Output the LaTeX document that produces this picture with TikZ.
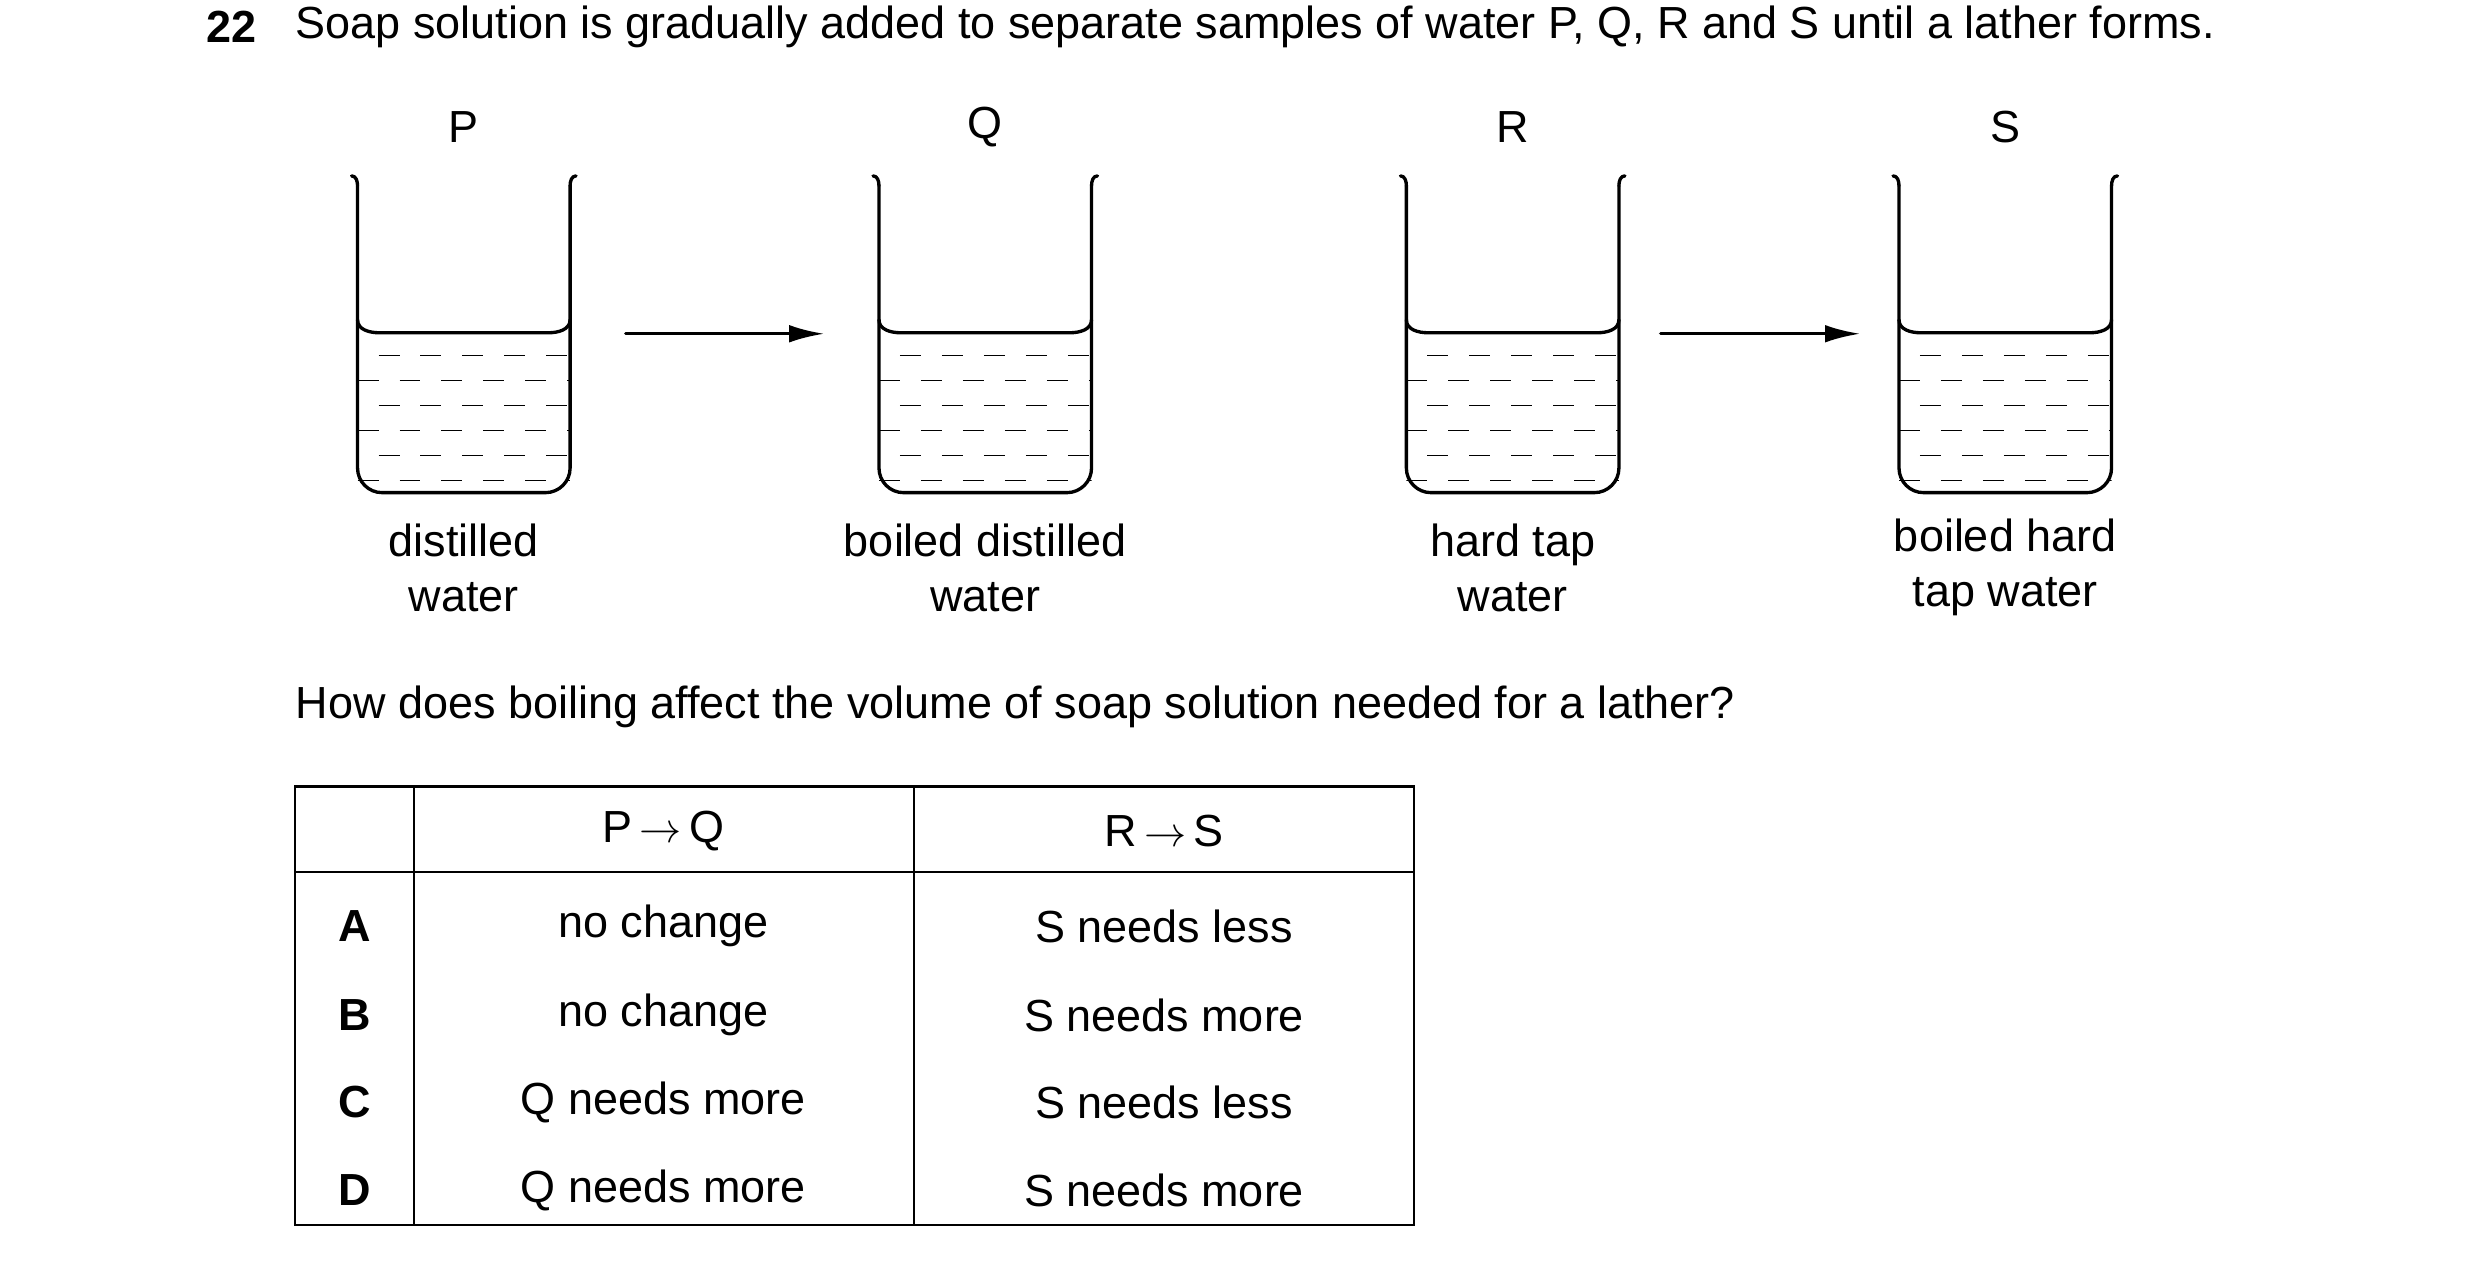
\documentclass[tikz,border=0pt]{standalone}
\usepackage{fontspec}
\setmainfont{Liberation Sans}
\usetikzlibrary{arrows.meta}
\tikzset{
  wall/.style={line width=0.95pt, line cap=round, line join=round},
  liquid/.style={line width=0.4pt, dash pattern=on 5.97pt off 5.97pt},
  txt/.style={font=\fontsize{12.8}{15.6}\selectfont, inner sep=0pt, align=center},
  grid/.style={line width=0.6pt}
}
\newcommand{\beaker}[2]{% name, centre x
  \begin{scope}[shift={(#2,0)}]
    \coordinate (#1L) at (-107,333);
    \coordinate (#1R) at (107,333);
    \begin{scope}
      \clip (-107,338) rectangle (107,490);
      \foreach \y/\ph in {356/5.97,381/0,406/5.97,431/0,456/5.97,481/0}
        \draw[liquid, dash phase=\ph pt] (-107,\y) -- (107,\y);
    \end{scope}
    \draw[wall] (-113,176) to[out=0,in=90] (-107,186);
    \draw[wall] (107,186) to[out=90,in=180] (113,176);
    \draw[wall, rounded corners=7pt] (-107,186) -- (-107,493) -- (107,493) -- (107,186);
    \draw[wall] (-107,320) to[out=-90,in=180] (-85,333) -- (85,333) to[out=0,in=-90] (107,320);
  \end{scope}}

\begin{document}
\begin{tikzpicture}[x=0.00993cm, y=-0.01cm]
  \useasboundingbox (0,0) rectangle (2497,1261);

  % question
  \node[txt, anchor=west, font=\bfseries\fontsize{12.8}{15.6}\selectfont] (num) at (207,27) {22};
  \node[txt, anchor=west] (stem) at (297,27) {Soap solution is gradually added to separate samples of water P, Q, R and S until a lather forms.};

  % beakers
  \beaker{p}{467}
  \beaker{q}{992}
  \beaker{r}{1523}
  \beaker{s}{2019}

  \node[txt] (lp) at (467,127) {P};
  \node[txt] (lq) at (992,127) {Q};
  \node[txt] (lr) at (1523,127) {R};
  \node[txt] (ls) at (2019,127) {S};

  \node[txt] (cp) at (467,568) {distilled\\water};
  \node[txt] (cq) at (992,568) {boiled distilled\\water};
  \node[txt] (cr) at (1523,568) {hard tap\\water};
  \node[txt] (cs) at (2019,568) {boiled hard\\tap water};

  \coordinate (a1) at (630,334);
  \coordinate (a2) at (830,334);
  \coordinate (a3) at (1672,334);
  \coordinate (a4) at (1873,334);
  \draw[wall, -{Latex[length=10pt,width=5pt]}] (a1) -- (a2);
  \draw[wall, -{Latex[length=10pt,width=5pt]}] (a3) -- (a4);

  \node[txt, anchor=west] (ask) at (297,707) {How does boiling affect the volume of soap solution needed for a lather?};

  % table
  \draw[grid] (297,787) rectangle (1424,1226);
  \draw[grid] (297,873) -- (1424,873);
  \draw[grid] (417,787) -- (417,1226);
  \draw[grid] (920,787) -- (920,1226);

  \node[txt] (h1) at (668,832) {P\,$\rightarrow$\,Q};
  \node[txt] (h2) at (1172,832) {R\,$\rightarrow$\,S};
  \foreach \n/\y/\a/\b in {A/927/no change/S needs less,
                           B/1016/no change/S needs more,
                           C/1103/Q needs more/S needs less,
                           D/1191/Q needs more/S needs more} {
    \node[txt, font=\bfseries\fontsize{12.8}{15.6}\selectfont] (k\n) at (357,\y) {\n};
    \node[txt] (x\n) at (668,\y) {\a};
    \node[txt] (y\n) at (1172,\y) {\b};
  }
\end{tikzpicture}
\end{document}
